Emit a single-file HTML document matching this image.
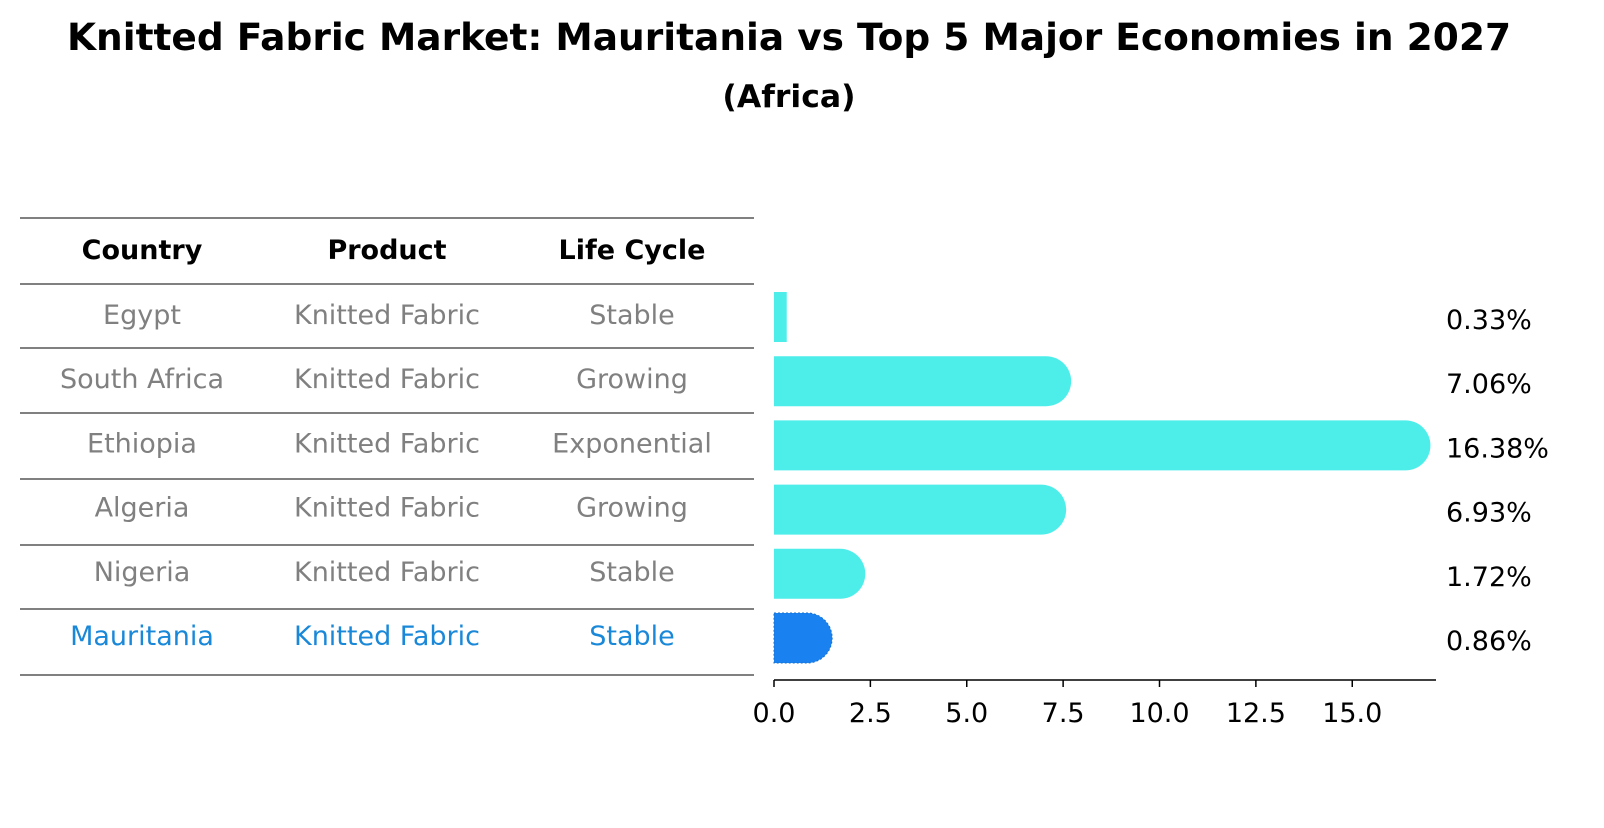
<!DOCTYPE html>
<html><head><meta charset="utf-8"><style>
body{margin:0;background:#fff;font-family:"Liberation Sans","DejaVu Sans",sans-serif}
</style></head><body>
<svg width="1604" height="823" xmlns="http://www.w3.org/2000/svg" font-family="DejaVu Sans, Liberation Sans, sans-serif">
<text x="789" y="50" text-anchor="middle" font-size="37.5" font-weight="bold">Knitted Fabric Market: Mauritania vs Top 5 Major Economies in 2027</text>
<text x="789" y="107" text-anchor="middle" font-size="31.5" font-weight="bold">(Africa)</text>
<g id="table"></g>
<g id="bars"></g>
</svg>
<script>
const countries=["Egypt","South Africa","Ethiopia","Algeria","Nigeria","Mauritania"];
const products=["Knitted Fabric","Knitted Fabric","Knitted Fabric","Knitted Fabric","Knitted Fabric","Knitted Fabric"];
const lifeCycles=["Stable","Growing","Exponential","Growing","Stable","Stable"];
const shares=[0.33,7.06,16.38,6.93,1.72,0.86];
const shareLabels=["0.33%","7.06%","16.38%","6.93%","1.72%","0.86%"];
const xTicks=[0,2.5,5,7.5,10,12.5,15];
const xTickLabels=["0.0","2.5","5.0","7.5","10.0","12.5","15.0"];
const NS="http://www.w3.org/2000/svg";
function mk(tag,attrs,parent,txt){const e=document.createElementNS(NS,tag);for(const k in attrs)e.setAttribute(k,attrs[k]);if(txt!==undefined)e.textContent=txt;parent.appendChild(e);return e;}
const tb=document.getElementById('table'),bg=document.getElementById('bars');
const lineYs=[218,284,348,413,479,545,609,675];
lineYs.forEach(y=>{const l=mk('line',{x1:20,x2:754,y1:y,y2:y,stroke:'#000','stroke-width':1},tb);

});
const colX=[142,387,632];
["Country","Product","Life Cycle"].forEach((h,i)=>{const t=mk('text',{x:colX[i],y:259,'text-anchor':'middle','font-size':27,'font-weight':'bold'},tb,h);

});
const xs=v=>774+v*38.55;
const rowY=i=>317+i*64.2;
countries.forEach((c,i)=>{
 const hi=i===countries.length-1;const col=hi?'#1a88d8':'#808080';
 [c,products[i],lifeCycles[i]].forEach((v,j)=>{const t=mk('text',{x:colX[j],y:rowY(i)+7,'text-anchor':'middle','font-size':27,fill:col},tb,v);
 
 });
 const cy=rowY(i),h=50,r=25,x0=xs(0),x1=xs(shares[i]);
 const fill=hi?'#1a82f0':'#4deeea';
 let d;
 if(x1-x0<r){d=`M${x0},${cy-h/2}H${x1}V${cy+h/2}H${x0}Z`;}
 else d=`M${x0},${cy-h/2}H${x1}A${r},${r} 0 0 1 ${x1},${cy+h/2}H${x0}Z`;
 const b=mk('path',{d:d,fill:fill},bg);
 if(hi){b.setAttribute('stroke','#1670d0');b.setAttribute('stroke-dasharray','2,2');}
 
 
 const lt=mk('text',{x:1446,y:cy+12,'font-size':27},bg,shareLabels[i]);
 
 
});
const ax=mk('line',{x1:774,x2:1436,y1:680,y2:680,stroke:'#000','stroke-width':1.5},bg);


xTicks.forEach((v,i)=>{const tk=mk('line',{x1:xs(v),x2:xs(v),y1:680,y2:687,stroke:'#000','stroke-width':1.5},bg);


const tl=mk('text',{x:xs(v),y:722,'text-anchor':'middle','font-size':27},bg,xTickLabels[i]);

});
</script>
</body></html>
